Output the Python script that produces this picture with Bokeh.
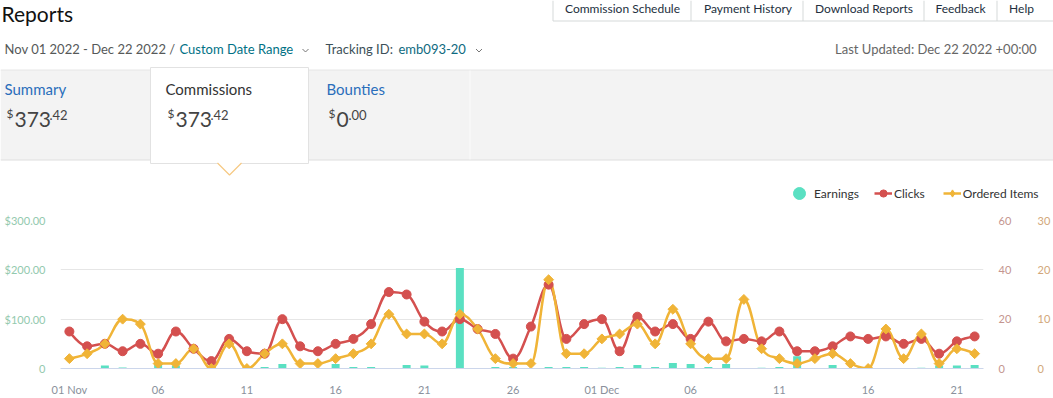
import math
from bokeh.plotting import figure
from bokeh.layouts import column
from bokeh.models import (Range1d, LinearAxis, FixedTicker, Legend, LegendItem,
                          ColumnDataSource)
from bokeh.core.properties import value
from bokeh.embed import file_html
from bokeh.resources import INLINE

# ---------------- data ----------------
x_tick_labels = ["01 Nov", "06", "11", "16", "21", "26", "01 Dec", "06", "11", "16", "21"]
earnings = [0, 0, 6, 2, 0, 9, 6, 0, 0, 0, 0, 3, 9, 0, 0, 9, 3, 3, 0, 7, 6, 0, 203.5, 0, 3, 3,
            0, 3, 3, 3, 1.5, 3, 7, 3, 11, 9, 3, 9, 0, 1.5, 3, 25, 0, 7, 0, 0, 0, 0, 1.5, 6, 6, 7]
clicks = [15, 9, 10, 7, 10, 6, 15, 8, 3, 12, 7, 6, 20, 9, 7, 10, 12, 18, 31, 30, 19, 15, 20, 16, 14, 4,
          17, 34, 12, 18, 20, 7, 21, 15, 18, 12, 19, 11, 12, 11, 15, 7, 7, 9, 13, 12, 13, 10, 12, 6, 11, 13]
ordered_items = [2, 3, 5, 10, 9, 1, 1, 4, 0, 5, 0, 3, 5, 1, 1, 2, 3, 5, 11, 7, 7, 5, 11, 8, 2, 1,
                 1, 18, 3, 3, 6, 7, 9, 5, 12, 5, 2, 2, 14, 4, 2, 1, 2, 3, 1, 0, 8, 2, 7, 1, 4, 3]
earn_ticks = [0, 100, 200, 300]
earn_tick_labels = ["0", "$100.00", "$200.00", "$300.00"]
click_ticks = [0, 20, 40, 60]
item_ticks = [0, 10, 20, 30]
legend_labels = ["Earnings", "Clicks", "Ordered Items"]
tabs = ["Commission Schedule", "Payment History", "Download Reports", "Feedback", "Help"]
summary_names = ["Summary", "Commissions", "Bounties"]
summary_totals = [373.42, 373.42, 0.00]
date_range_text = "Nov 01 2022 - Dec 22 2022 /"
range_kind = "Custom Date Range"
tracking_id = "emb093-20"
last_updated = "Last Updated: Dec 22 2022 +00:00"

days = list(range(len(clicks)))

FONT = "Lato"
W = 1053
TEAL = "#5ae0c2"
RED = "#d4504f"
YEL = "#f0b437"


def no_align(fig):
    try:
        fig.frame_align = False
    except Exception:
        pass


def txt(fig, xs, ys, texts, size, color, align="left"):
    fig.text(x=xs, y=ys, text=texts, text_font=value(FONT), text_font_size=size,
             text_color=color, text_align=align, text_baseline="middle")


# ---------------- header (also holds the legend) ----------------
HH = 210
h = figure(width=W, height=HH, x_range=Range1d(0, W), y_range=Range1d(HH, 0),
           output_backend="svg", toolbar_location=None, min_border=0,
           x_axis_type=None, y_axis_type=None, outline_line_color=None,
           background_fill_color="white", border_fill_color="white")
no_align(h)

h.quad(left=0, right=W, top=69.5, bottom=159.5, fill_color="#f3f3f3", line_color=None)
h.segment(x0=[0, 0], y0=[69.5, 159.5], x1=[W, W], y1=[69.5, 159.5],
          line_color=["#e6e6e6", "#dedede"], line_width=1)
h.segment(x0=[469.5], y0=[70], x1=[469.5], y1=[159], line_color="#fbfbfb", line_width=1)
# selected card
h.quad(left=150, right=308, top=67, bottom=163, fill_color="white", line_color="#e2e2e2")
h.patch(x=[217, 229, 241], y=[162.5, 174.5, 162.5], fill_color="white", line_color=None)
h.line(x=[217, 229, 241], y=[162.5, 174.5, 162.5], line_color="#f6c983", line_width=1.2)

# tabs
tab_edges = [552.5, 690.5, 802.5, 923.5, 996.5]
h.segment(x0=tab_edges, y0=[0] * 5, x1=tab_edges, y1=[20.5] * 5, line_color="#d5d9d9")
h.segment(x0=[552.5], y0=[20.5], x1=[W], y1=[20.5], line_color="#d5d9d9")
txt(h, [622, 747.5, 863.5, 960, 1021], [7.5] * 5, tabs, "12px", "#232f3e", "center")

txt(h, [1], [12.5], ["Reports"], "21px", "#111111")

txt(h, [4, 179, 325, 398], [48] * 4, [date_range_text, range_kind, "Tracking ID:", tracking_id],
    "13px", ["#565959", "#007185", "#3d4f58", "#0e6a80"])
h.multi_line(xs=[[302, 305, 308], [475.5, 478.5, 481.5]], ys=[[48.5, 51.5, 48.5], [48.5, 51.5, 48.5]],
             line_color="#777777", line_width=1)
txt(h, [1036], [48], [last_updated], "13px", "#666666", "right")

txt(h, [4, 165, 326], [88.5] * 3, summary_names, "15px", ["#2a6ebb", "#333333", "#2a6ebb"])
whole = [str(int(t)) for t in summary_totals]
cents = ["." + ("%.2f" % t).split(".")[1] for t in summary_totals]
txt(h, [6, 167, 328], [113] * 3, ["$"] * 3, "12px", "#444444")
txt(h, [14, 175, 336], [118.5] * 3, whole, "21px", "#444444")
txt(h, [49, 210, 348], [114.5] * 3, cents, "13px", "#444444")

# legend (drawn with stand-in glyphs that share the series styles)
nan = float("nan")
l_earn = h.scatter([nan], [nan], marker="circle", size=12, fill_color=TEAL, line_color=TEAL)
l_click_line = h.line([nan, nan], [nan, nan], line_color=RED, line_width=2.5)
l_click_m = h.scatter([nan], [nan], marker="circle", size=8, fill_color=RED, line_color=RED)
l_item_line = h.line([nan, nan], [nan, nan], line_color=YEL, line_width=2.5)
l_item_m = h.scatter([nan], [nan], marker="diamond", size=9, fill_color=YEL, line_color=YEL)

common = dict(orientation="horizontal", border_line_color=None, background_fill_alpha=0,
              label_text_font=FONT, label_text_font_size="12px", label_text_color="#333333",
              padding=0, margin=0)
leg1 = Legend(items=[LegendItem(label=legend_labels[0], renderers=[l_earn])],
              location=(784, 2), glyph_width=30, glyph_height=30, label_standoff=-7, **common)
leg2 = Legend(items=[LegendItem(label=legend_labels[1], renderers=[l_click_line, l_click_m]),
                     LegendItem(label=legend_labels[2], renderers=[l_item_line, l_item_m])],
              location=(874, 6), glyph_width=18, glyph_height=22, label_standoff=2,
              spacing=18, **common)
h.add_layout(leg1, "center")
h.add_layout(leg2, "center")


# ---------------- chart ----------------
def spline(xs, ys, smoothing=1.5):
    n = len(xs)
    denom = smoothing + 1
    lc = [(xs[i], ys[i]) for i in range(n)]
    rc = [(xs[i], ys[i]) for i in range(n)]
    for i in range(1, n - 1):
        px, py = xs[i], ys[i]
        lx, ly = xs[i - 1], ys[i - 1]
        nx, ny = xs[i + 1], ys[i + 1]
        lcx = (smoothing * px + lx) / denom
        lcy = (smoothing * py + ly) / denom
        rcx = (smoothing * px + nx) / denom
        rcy = (smoothing * py + ny) / denom
        if rcx != lcx:
            corr = ((rcy - lcy) * (rcx - px)) / (rcx - lcx) + py - rcy
            lcy += corr
            rcy += corr
        if lcy > ly and lcy > py:
            lcy = max(ly, py); rcy = 2 * py - lcy
        elif lcy < ly and lcy < py:
            lcy = min(ly, py); rcy = 2 * py - lcy
        if rcy > ny and rcy > py:
            rcy = max(ny, py); lcy = 2 * py - rcy
        elif rcy < ny and rcy < py:
            rcy = min(ny, py); lcy = 2 * py - rcy
        lc[i] = (lcx, lcy)
        rc[i] = (rcx, rcy)
    return dict(x0=xs[:-1], y0=ys[:-1], x1=xs[1:], y1=ys[1:],
                cx0=[rc[i][0] for i in range(n - 1)], cy0=[rc[i][1] for i in range(n - 1)],
                cx1=[lc[i][0] for i in range(1, n)], cy1=[lc[i][1] for i in range(1, n)])


p = figure(width=W, height=398 - HH, x_range=Range1d(-0.5, len(days) - 0.5),
           y_range=Range1d(0, 300),
           output_backend="svg", toolbar_location=None,
           min_border_left=60, min_border_right=70, min_border_top=220 - HH, min_border_bottom=28,
           outline_line_color=None, background_fill_color="white", border_fill_color="white")
no_align(p)
p.extra_y_ranges = {"clicks": Range1d(0, 60), "items": Range1d(0, 30)}

# axes
ya = p.yaxis[0]
ya.ticker = FixedTicker(ticks=earn_ticks)
ya.major_label_overrides = {t: l for t, l in zip(earn_ticks, earn_tick_labels)}
ya.axis_line_color = None
ya.major_tick_line_color = None
ya.major_tick_out = 0
ya.minor_tick_line_color = None
ya.minor_tick_out = 0
ya.major_label_standoff = 15
ya.major_label_text_color = "#93c9ae"
ya.major_label_text_font = FONT
ya.major_label_text_font_size = "11px"

for name, ticks, color, standoff in [("clicks", click_ticks, "#c4958f", 15),
                                     ("items", item_ticks, "#d2a77a", 23)]:
    ax = LinearAxis(y_range_name=name, ticker=FixedTicker(ticks=ticks),
                    axis_line_color=None, major_tick_line_color=None, minor_tick_line_color=None,
                    major_tick_out=0, minor_tick_out=0,
                    major_label_standoff=standoff, major_label_text_color=color,
                    major_label_text_font=FONT, major_label_text_font_size="11px")
    p.add_layout(ax, "right")

xa = p.xaxis[0]
xticks = list(range(0, len(days), 5))
xa.ticker = FixedTicker(ticks=xticks)
xa.major_label_overrides = {t: l for t, l in zip(xticks, x_tick_labels)}
xa.axis_line_color = "#ccd6eb"
xa.major_tick_line_color = None
xa.minor_tick_line_color = None
xa.major_label_standoff = 8
xa.major_label_text_color = "#8a919c"
xa.major_label_text_font = FONT
xa.major_label_text_font_size = "11px"

p.xgrid.visible = False
p.ygrid.ticker = FixedTicker(ticks=earn_ticks)
p.ygrid.grid_line_color = "#e6e6e6"

# series
p.vbar(x=days, top=earnings, width=0.45, fill_color=TEAL, line_color=None)

p.bezier(source=ColumnDataSource(spline(days, clicks)), x0="x0", y0="y0", x1="x1", y1="y1",
         cx0="cx0", cy0="cy0", cx1="cx1", cy1="cy1", line_color=RED, line_width=2.5,
         y_range_name="clicks")
p.bezier(source=ColumnDataSource(spline(days, ordered_items)), x0="x0", y0="y0", x1="x1", y1="y1",
         cx0="cx0", cy0="cy0", cx1="cx1", cy1="cy1", line_color=YEL, line_width=2.5,
         y_range_name="items")
p.scatter(days, clicks, marker="circle", size=9, fill_color=RED, line_color=RED,
          y_range_name="clicks")
p.scatter(days, ordered_items, marker="square", angle=math.pi / 4, size=7,
          fill_color=YEL, line_color=YEL, y_range_name="items")

layout = column(h, p, spacing=0)
open("out.html", "w").write(file_html(layout, INLINE))
